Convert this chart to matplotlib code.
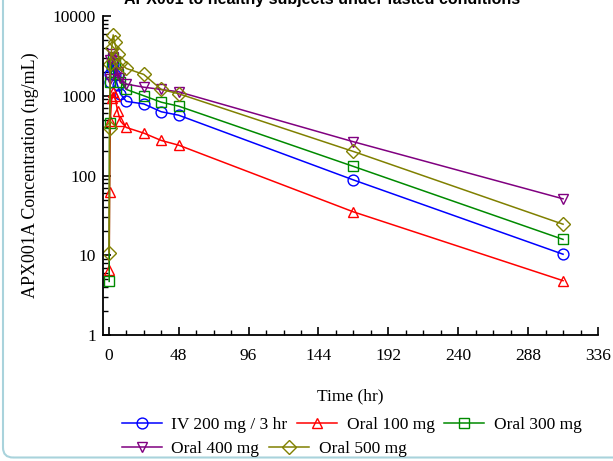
import matplotlib.pyplot as plt
from matplotlib.patches import FancyBboxPatch
from matplotlib.ticker import MultipleLocator, LogLocator, NullFormatter

plt.rcParams['font.family'] = ['Liberation Serif', 'DejaVu Serif']

# sampling times (hr)
t = [0.25, 0.5, 1, 2, 3, 4, 6, 8, 12, 24, 36, 48, 168, 312]
t_iv = [0.5, 1, 2, 3, 4, 6, 8, 12, 24, 36, 48, 168, 312]
t_p = [0.5, 1, 2, 3, 4, 6, 8, 12, 24, 36, 48, 168, 312]

iv_200 = [1500, 1900, 2200, 2500, 1800, 1350, 1050, 850, 790, 630, 570, 88, 10.3]
oral_100 = [6.5, 62, 480, 950, 1100, 1000, 650, 480, 400, 340, 275, 240, 35, 4.8]
oral_300 = [4.7, 450, 1500, 2500, 3000, 2600, 1900, 1500, 1200, 1000, 830, 740, 130, 15.8]
oral_400 = [1600, 2800, 3300, 3100, 2700, 2000, 1650, 1400, 1280, 1200, 1120, 265, 51]
oral_500 = [10.8, 390, 2500, 4000, 5800, 4700, 3300, 2600, 2200, 1850, 1200, 1060, 200, 24.5]

series = [
    ('IV 200 mg / 3 hr', t_iv, iv_200, '#0000ff', 'o'),
    ('Oral 100 mg', t, oral_100, '#ff0000', '^'),
    ('Oral 300 mg', t, oral_300, '#008a00', 's'),
    ('Oral 400 mg', t_p, oral_400, '#800080', 'v'),
    ('Oral 500 mg', t, oral_500, '#808000', 'D'),
]

fig = plt.figure(figsize=(6.13, 4.61), dpi=100)
ax = fig.add_axes([103 / 613, 1 - 335 / 461, 495 / 613, 319 / 461])

handles = []
for label, x, y, c, m in series:
    ms = 7.2 if m == 'D' else 7.8
    h, = ax.plot(x, y, color=c, marker=m, ms=ms, mfc='none', mec=c, mew=1.0,
                 lw=1.1, label=label)
    handles.append(h)

ax.set_yscale('log')
ax.set_ylim(1, 10000)
ax.set_xlim(-4, 336)
ax.xaxis.set_major_locator(MultipleLocator(48))
ax.xaxis.set_minor_locator(MultipleLocator(12))
ax.yaxis.set_minor_locator(LogLocator(base=10, subs=range(2, 10)))
ax.yaxis.set_minor_formatter(NullFormatter())
ax.set_yticks([1, 10, 100, 1000, 10000])
ax.set_yticklabels(['1', '10', '100', '1000', '10000'])

for s in ['top', 'right']:
    ax.spines[s].set_visible(False)
for s in ['left', 'bottom']:
    ax.spines[s].set_linewidth(1.3)
ax.tick_params(which='major', direction='in', length=6, width=1.2, labelsize=12.5)
ax.tick_params(axis='x', which='major', pad=9)
ax.tick_params(axis='y', which='major', pad=5)
ax.tick_params(which='minor', direction='in', length=3.5, width=1.0)

ax.set_xlabel('Time (hr)', fontsize=12.5, labelpad=18)
ax.set_ylabel('APX001A Concentration (ng/mL)', fontsize=13, labelpad=10)

leg_kw = dict(frameon=False, fontsize=12.5, handlelength=2.3, handletextpad=0.55,
              columnspacing=0.55, borderpad=0, borderaxespad=0)
leg1 = fig.legend(handles=handles[:3], ncol=3, loc='center left',
                  bbox_to_anchor=(122 / 613, 1 - 425 / 461), **leg_kw)
leg2 = fig.legend(handles=handles[3:], ncol=2, loc='center left',
                  bbox_to_anchor=(122 / 613, 1 - 449 / 461), **leg_kw)

fig.text(322 / 613, 1 - 4 / 461, 'APX001 to healthy subjects under fasted conditions',
         ha='center', va='baseline', fontsize=11.5, fontweight='bold',
         family='Liberation Sans')

card = FancyBboxPatch((0.03, 0.035), 7.0, 6.0, boxstyle='round,pad=0,rounding_size=0.1',
                      transform=fig.dpi_scale_trans, fill=False, ec='#a9d3dc', lw=1.5)
fig.patches.append(card)

fig.savefig('out.png', dpi=100)
